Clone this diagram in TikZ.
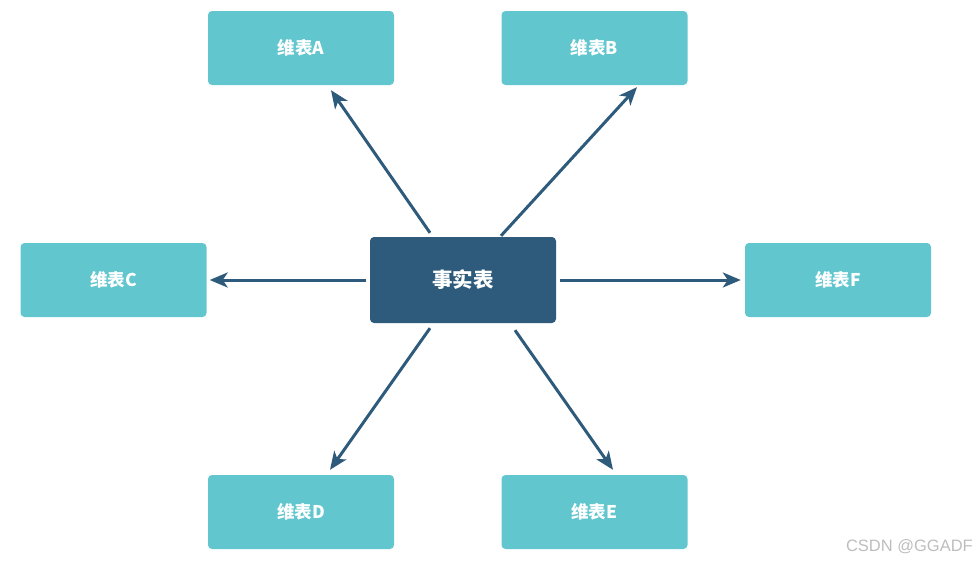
\documentclass[tikz,border=0pt]{standalone}
\usepackage{fontspec}
\setmainfont{Liberation Sans}
\newfontfamily\cjk{Noto Sans CJK SC}
\usetikzlibrary{arrows.meta}
\definecolor{dimc}{HTML}{62C6CE}
\definecolor{factc}{HTML}{2E5B7C}
\definecolor{arrc}{HTML}{2E5B7C}
\definecolor{wmc}{HTML}{BDBDBD}
\tikzset{
  dimbox/.style={fill=dimc, rounded corners=4pt, minimum width=186pt, minimum height=74pt, inner sep=0pt,
    text=white, font=\cjk\bfseries\fontsize{17.5}{20}\selectfont},
  factbox/.style={fill=factc, rounded corners=4pt, minimum width=186pt, minimum height=86pt, inner sep=0pt,
    text=white, font=\cjk\bfseries\fontsize{20.5}{23}\selectfont},
  link/.style={draw=arrc, line width=3pt, -{Stealth[length=18pt,width=15pt,inset=5pt]}}
}
\begin{document}
\begin{tikzpicture}[x=1pt,y=-1pt]
\useasboundingbox (0,0) rectangle (978,563);
\node[factbox] (ctr) at (463,280) {事实表};
\node[dimbox] (a) at (301,48) {维表A};
\node[dimbox] (b) at (594.5,48) {维表B};
\node[dimbox] (c) at (113.5,280) {维表C};
\node[dimbox] (f) at (838,280) {维表F};
\node[dimbox] (d) at (301,512) {维表D};
\node[dimbox] (e) at (594.5,512) {维表E};
\draw[link] ([xshift=-33pt,yshift=4pt]ctr.north) -- ([xshift=30pt,yshift=-5pt]a.south);
\draw[link] ([xshift=38pt,yshift=1pt]ctr.north) -- ([xshift=42.5pt,yshift=-2pt]b.south);
\draw[link] ([xshift=-4pt]ctr.west) -- ([xshift=3pt]c.east);
\draw[link] ([xshift=4pt]ctr.east) -- ([xshift=-4pt]f.west);
\draw[link] ([xshift=-33pt,yshift=-5pt]ctr.south) -- ([xshift=29pt,yshift=5pt]d.north);
\draw[link] ([xshift=52pt,yshift=-7pt]ctr.south) -- ([xshift=18.5pt,yshift=5pt]e.north);
\node[anchor=base east, text=wmc, font=\fontsize{16.5}{19}\selectfont, inner sep=0pt] (wm) at (973,551) {CSDN @GGADF};
\end{tikzpicture}
\end{document}
